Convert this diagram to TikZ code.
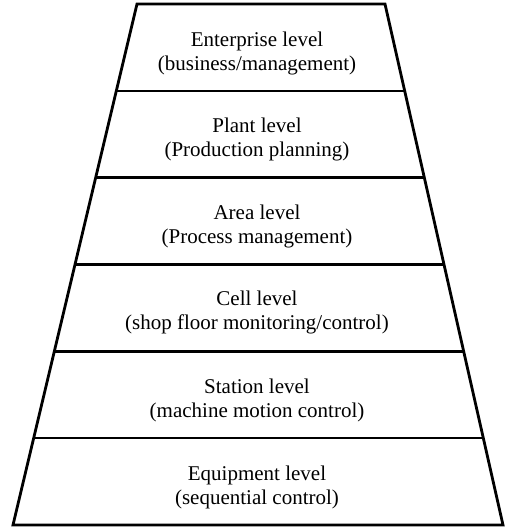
\documentclass[tikz,border=0pt]{standalone}
\usepackage{fontspec}
\setmainfont{Liberation Serif}
\usetikzlibrary{calc}
\begin{document}
\begin{tikzpicture}[x=1pt,y=-1pt]
\tikzstyle{every node}+=[inner sep=0pt,align=center,font=\fontsize{21}{24}\selectfont]
\useasboundingbox (0,0) rectangle (505,528);
\coordinate (tl) at (137,4);
\coordinate (tr) at (385,4);
\coordinate (bl) at (13,525);
\coordinate (br) at (503,525);
\draw [black,line width=2.8pt] (tl) -- (tr) -- (br) -- (bl) -- cycle;
\foreach \k in {1,...,5}
  \draw [black,line width=2.6pt] ($(tl)!\k/6!(bl)$) -- ($(tr)!\k/6!(br)$);
\node (enterprise) at (257,53) {Enterprise level\\(business/management)};
\node (plant) at (257,139.5) {Plant level\\(Production planning)};
\node (area) at (257,226) {Area level\\(Process management)};
\node (cell) at (257,312.5) {Cell level\\(shop floor monitoring/control)};
\node (station) at (257,400) {Station level\\(machine motion control)};
\node (equipment) at (257,487.5) {Equipment level\\(sequential control)};
\end{tikzpicture}
\end{document}
